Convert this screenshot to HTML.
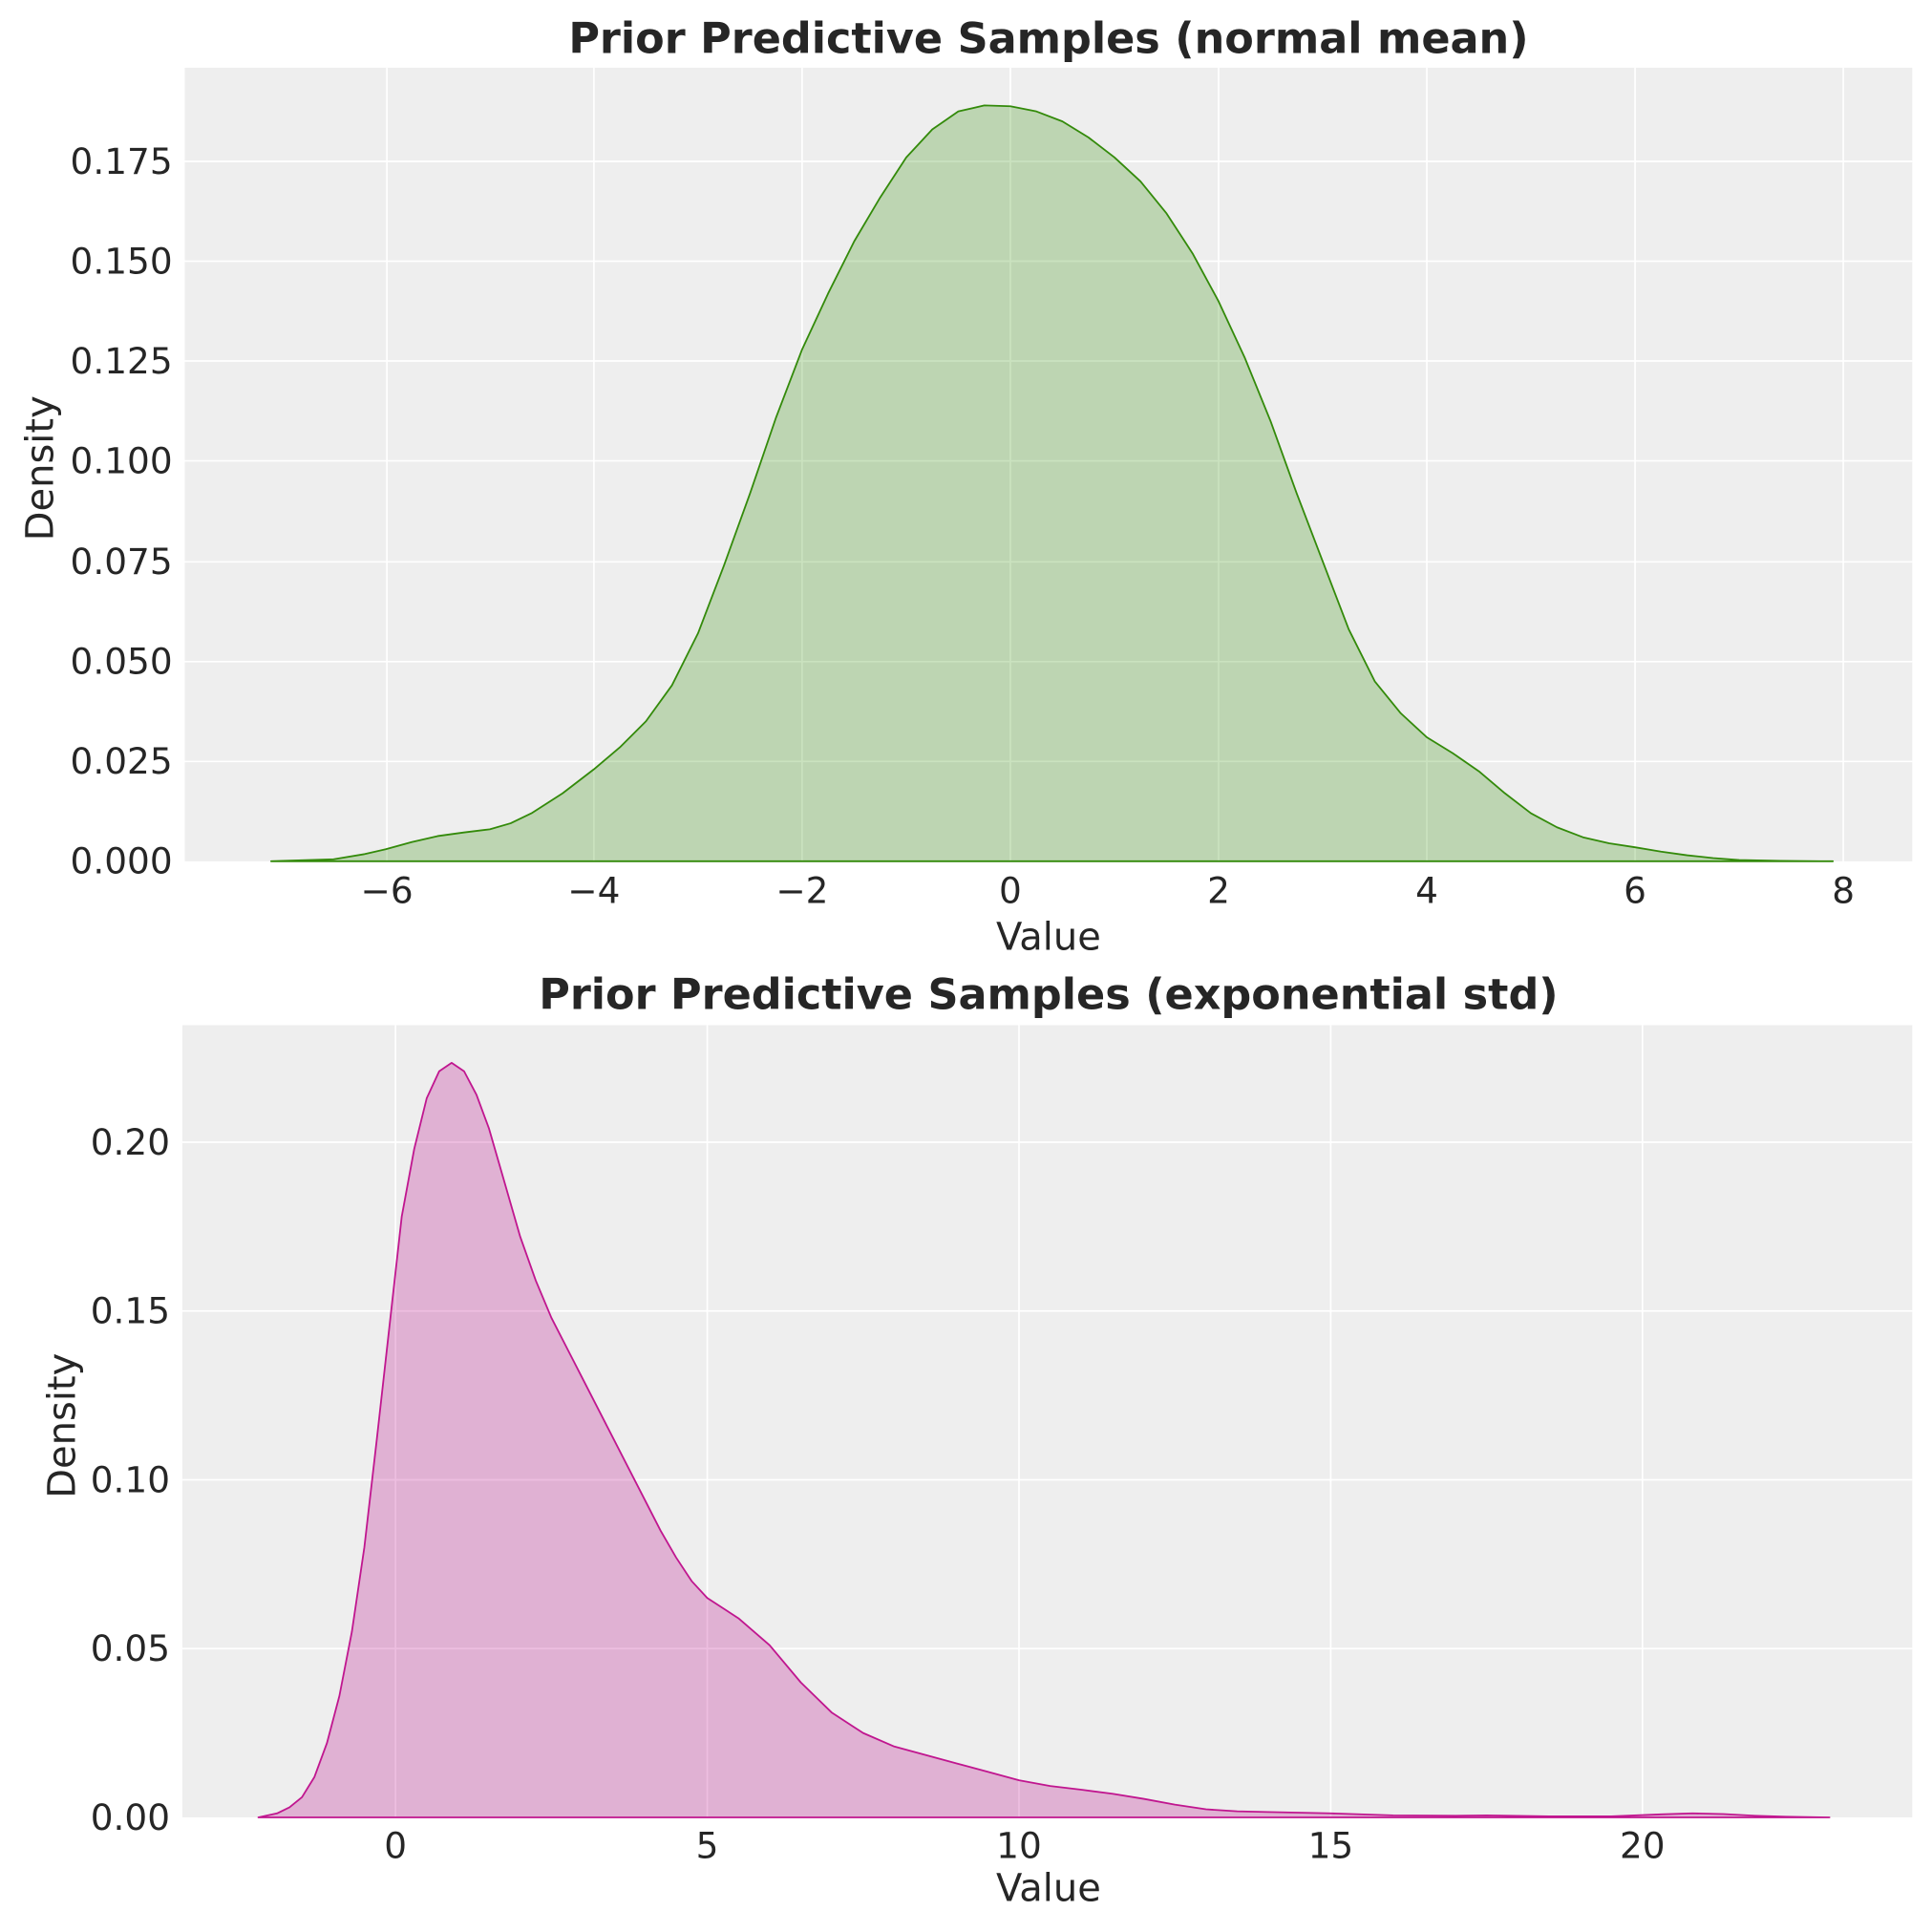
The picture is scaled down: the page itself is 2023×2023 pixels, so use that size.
<!DOCTYPE html>
<html><head><meta charset="utf-8"><style>html,body{margin:0;padding:0;background:#fff}svg{display:block}text{font-family:"DejaVu Sans","Liberation Sans",sans-serif;fill:#262626}</style></head>
<body>
<svg width="2023" height="2023" viewBox="0 0 1568 1568" xmlns="http://www.w3.org/2000/svg">
<!-- TOP -->
<rect x="150" y="55" width="1402" height="644" fill="#eeeeee"/>
<g stroke="#fff" stroke-width="1.3">
<line x1="314" y1="55" x2="314" y2="699"/><line x1="482" y1="55" x2="482" y2="699"/><line x1="651" y1="55" x2="651" y2="699"/><line x1="820" y1="55" x2="820" y2="699"/><line x1="989" y1="55" x2="989" y2="699"/><line x1="1158" y1="55" x2="1158" y2="699"/><line x1="1327" y1="55" x2="1327" y2="699"/><line x1="1496" y1="55" x2="1496" y2="699"/>
<line x1="150" y1="131" x2="1552" y2="131"/><line x1="150" y1="212" x2="1552" y2="212"/><line x1="150" y1="293" x2="1552" y2="293"/><line x1="150" y1="374" x2="1552" y2="374"/><line x1="150" y1="456" x2="1552" y2="456"/><line x1="150" y1="537" x2="1552" y2="537"/><line x1="150" y1="618" x2="1552" y2="618"/>
</g>
<g transform="translate(820,699) scale(84.5,-3245.7)">
<path fill="#2a8c00" fill-opacity="0.25" stroke="#338a0a" stroke-width="1.8" vector-effect="non-scaling-stroke" stroke-linejoin="round"
d="M-7.1,0 L-6.5,0.0005 -6.2,0.0018 -6,0.003 -5.75,0.0048 -5.5,0.0063 -5.25,0.0072 -5,0.008 -4.8,0.0095 -4.6,0.012 -4.3,0.017 -4,0.023 -3.75,0.0285 -3.5,0.035 -3.25,0.044 -3,0.057 -2.75,0.074 -2.5,0.092 -2.25,0.111 -2,0.128 -1.75,0.142 -1.5,0.155 -1.25,0.166 -1,0.176 -0.75,0.183 -0.5,0.1875 -0.25,0.189 0,0.1888 0.25,0.1875 0.5,0.185 0.75,0.181 1,0.176 1.25,0.170 1.5,0.162 1.75,0.152 2,0.140 2.25,0.126 2.5,0.110 2.75,0.092 3,0.075 3.25,0.058 3.5,0.045 3.75,0.037 4,0.031 4.25,0.027 4.5,0.0225 4.75,0.017 5,0.012 5.25,0.0085 5.5,0.006 5.75,0.0045 6,0.0035 6.25,0.0024 6.5,0.0015 6.75,0.0008 7,0.0003 7.4,0.0001 7.9,0 Z"/>
</g>
<g font-size="29" text-anchor="end">
<text x="140" y="709">0.000</text><text x="140" y="628">0.025</text><text x="140" y="547">0.050</text><text x="140" y="466">0.075</text><text x="140" y="384">0.100</text><text x="140" y="303">0.125</text><text x="140" y="222">0.150</text><text x="140" y="141">0.175</text>
</g>
<g font-size="29" text-anchor="middle">
<text x="314" y="733">−6</text><text x="482" y="733">−4</text><text x="651" y="733">−2</text><text x="820" y="733">0</text><text x="989" y="733">2</text><text x="1158" y="733">4</text><text x="1327" y="733">6</text><text x="1496" y="733">8</text>
</g>
<text x="851" y="771" font-size="31" text-anchor="middle">Value</text>
<text transform="translate(43,380) rotate(-90)" font-size="31" text-anchor="middle">Density</text>
<text x="851" y="43" font-size="34.5" font-weight="bold" text-anchor="middle">Prior Predictive Samples (normal mean)</text>

<!-- BOTTOM -->
<rect x="148" y="832" width="1404" height="643" fill="#eeeeee"/>
<g stroke="#fff" stroke-width="1.3">
<line x1="321" y1="832" x2="321" y2="1475"/><line x1="574" y1="832" x2="574" y2="1475"/><line x1="827" y1="832" x2="827" y2="1475"/><line x1="1080" y1="832" x2="1080" y2="1475"/><line x1="1333" y1="832" x2="1333" y2="1475"/>
<line x1="148" y1="927" x2="1552" y2="927"/><line x1="148" y1="1064" x2="1552" y2="1064"/><line x1="148" y1="1201" x2="1552" y2="1201"/><line x1="148" y1="1338" x2="1552" y2="1338"/>
</g>
<g transform="translate(321,1475) scale(50.6,-2740)">
<path fill="#c0168f" fill-opacity="0.28" stroke="#c0168f" stroke-width="1.8" vector-effect="non-scaling-stroke" stroke-linejoin="round"
d="M-2.2,0 L-1.9,0.0012 -1.7,0.003 -1.5,0.006 -1.3,0.012 -1.1,0.022 -0.9,0.036 -0.7,0.055 -0.5,0.08 -0.3,0.112 -0.1,0.145 0.1,0.178 0.3,0.198 0.5,0.213 0.7,0.221 0.9,0.2235 1.1,0.221 1.3,0.214 1.5,0.204 1.75,0.188 2,0.172 2.25,0.159 2.5,0.148 2.75,0.139 3,0.130 3.5,0.112 4,0.094 4.25,0.085 4.5,0.077 4.75,0.070 5,0.065 5.5,0.059 6,0.051 6.5,0.040 7,0.031 7.5,0.025 8,0.021 8.5,0.0185 9,0.016 9.5,0.0135 10,0.011 10.5,0.0093 11,0.0082 11.5,0.007 12,0.0055 12.5,0.0038 13,0.0024 13.5,0.0018 14,0.0016 15,0.0012 16,0.0006 17,0.0005 17.5,0.0006 18.5,0.0003 19.5,0.0003 20.3,0.0009 20.8,0.0012 21.3,0.001 21.8,0.0005 22.3,0.0002 23,0 Z"/>
</g>
<g font-size="29" text-anchor="end">
<text x="138" y="1485">0.00</text><text x="138" y="1348">0.05</text><text x="138" y="1211">0.10</text><text x="138" y="1074">0.15</text><text x="138" y="937">0.20</text>
</g>
<g font-size="29" text-anchor="middle">
<text x="321" y="1508">0</text><text x="574" y="1508">5</text><text x="827" y="1508">10</text><text x="1080" y="1508">15</text><text x="1333" y="1508">20</text>
</g>
<text x="851" y="1543" font-size="31" text-anchor="middle">Value</text>
<text transform="translate(61,1157) rotate(-90)" font-size="31" text-anchor="middle">Density</text>
<text x="851" y="819" font-size="34.5" font-weight="bold" text-anchor="middle">Prior Predictive Samples (exponential std)</text>
</svg>
</body></html>
